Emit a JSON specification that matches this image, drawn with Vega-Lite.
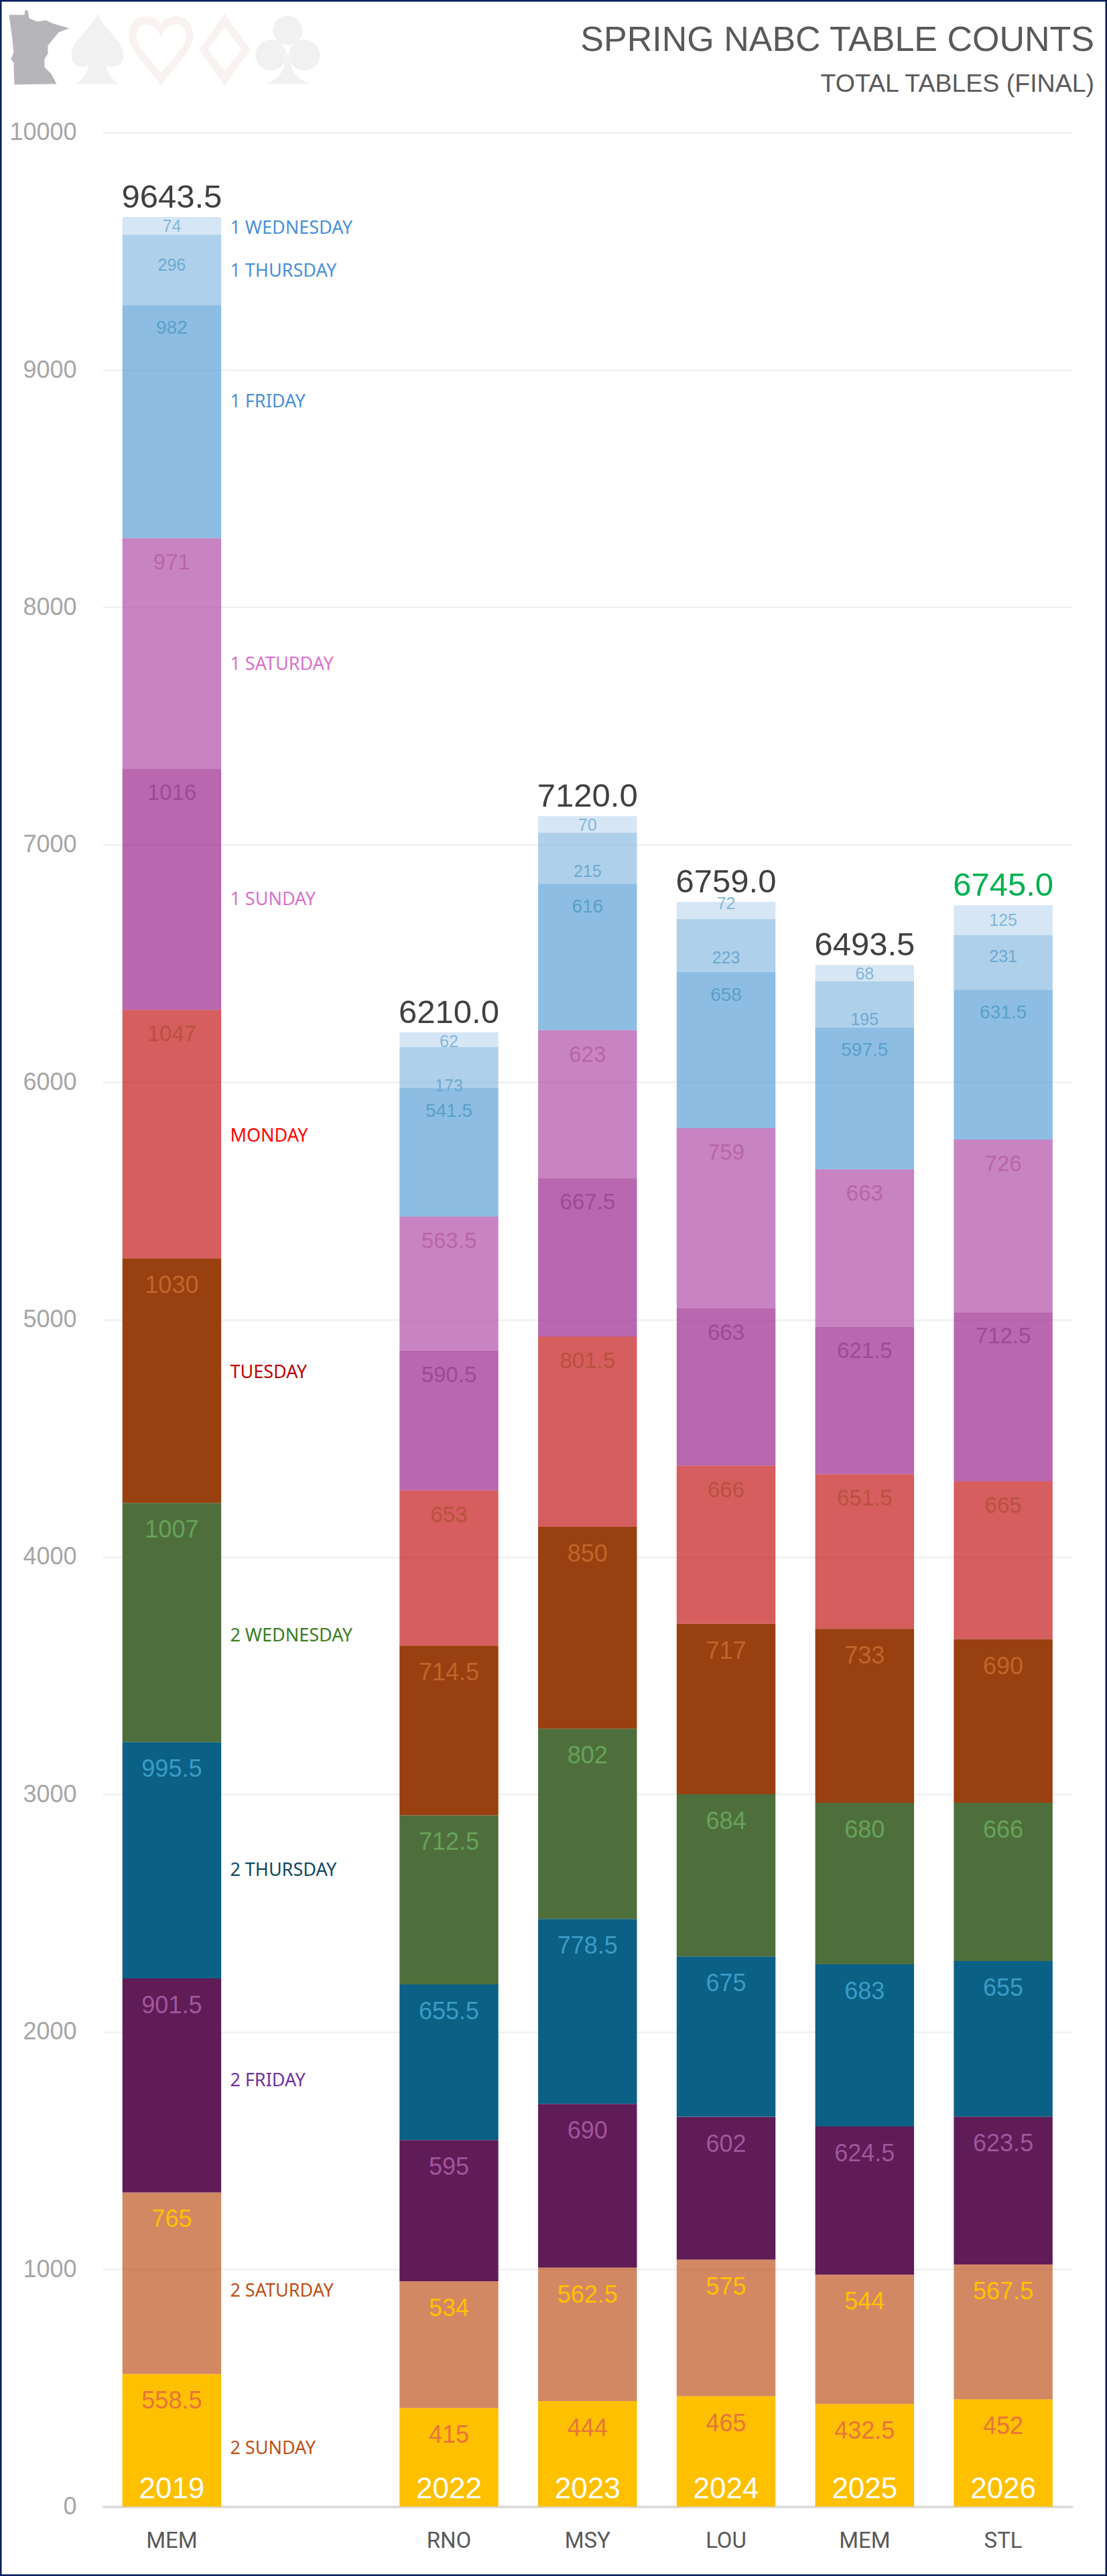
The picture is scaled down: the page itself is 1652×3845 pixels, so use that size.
{"$schema":"https://vega.github.io/schema/vega-lite/v6.json","autosize":"none","padding":0,"width":1652,"height":3845,"background":"white",
"title":{"text":"SPRING NABC TABLE COUNTS","subtitle":"TOTAL TABLES (FINAL)","anchor":"end","frame":"group","orient":"top","offset":-145,"dx":-19,"font":"Liberation Sans","fontSize":52,"fontWeight":"normal","color":"#595959","subtitleFont":"Liberation Sans","subtitleFontSize":37.5,"subtitleColor":"#595959","subtitlePadding":20},
"config":{"view":{"stroke":"#002060","strokeWidth":5,"fill":"white"},"text":{"font":"Liberation Sans"}},
"data":{"values":[
{"year":"2019","city":"MEM","day":"2 SUNDAY","order":1,"tables":558.5},{"year":"2019","city":"MEM","day":"2 SATURDAY","order":2,"tables":765},{"year":"2019","city":"MEM","day":"2 FRIDAY","order":3,"tables":901.5},{"year":"2019","city":"MEM","day":"2 THURSDAY","order":4,"tables":995.5},{"year":"2019","city":"MEM","day":"2 WEDNESDAY","order":5,"tables":1007},{"year":"2019","city":"MEM","day":"TUESDAY","order":6,"tables":1030},{"year":"2019","city":"MEM","day":"MONDAY","order":7,"tables":1047},{"year":"2019","city":"MEM","day":"1 SUNDAY","order":8,"tables":1016},{"year":"2019","city":"MEM","day":"1 SATURDAY","order":9,"tables":971},{"year":"2019","city":"MEM","day":"1 FRIDAY","order":10,"tables":982},{"year":"2019","city":"MEM","day":"1 THURSDAY","order":11,"tables":296},{"year":"2019","city":"MEM","day":"1 WEDNESDAY","order":12,"tables":74},
{"year":"2022","city":"RNO","day":"2 SUNDAY","order":1,"tables":415},{"year":"2022","city":"RNO","day":"2 SATURDAY","order":2,"tables":534},{"year":"2022","city":"RNO","day":"2 FRIDAY","order":3,"tables":595},{"year":"2022","city":"RNO","day":"2 THURSDAY","order":4,"tables":655.5},{"year":"2022","city":"RNO","day":"2 WEDNESDAY","order":5,"tables":712.5},{"year":"2022","city":"RNO","day":"TUESDAY","order":6,"tables":714.5},{"year":"2022","city":"RNO","day":"MONDAY","order":7,"tables":653},{"year":"2022","city":"RNO","day":"1 SUNDAY","order":8,"tables":590.5},{"year":"2022","city":"RNO","day":"1 SATURDAY","order":9,"tables":563.5},{"year":"2022","city":"RNO","day":"1 FRIDAY","order":10,"tables":541.5},{"year":"2022","city":"RNO","day":"1 THURSDAY","order":11,"tables":173},{"year":"2022","city":"RNO","day":"1 WEDNESDAY","order":12,"tables":62},
{"year":"2023","city":"MSY","day":"2 SUNDAY","order":1,"tables":444},{"year":"2023","city":"MSY","day":"2 SATURDAY","order":2,"tables":562.5},{"year":"2023","city":"MSY","day":"2 FRIDAY","order":3,"tables":690},{"year":"2023","city":"MSY","day":"2 THURSDAY","order":4,"tables":778.5},{"year":"2023","city":"MSY","day":"2 WEDNESDAY","order":5,"tables":802},{"year":"2023","city":"MSY","day":"TUESDAY","order":6,"tables":850},{"year":"2023","city":"MSY","day":"MONDAY","order":7,"tables":801.5},{"year":"2023","city":"MSY","day":"1 SUNDAY","order":8,"tables":667.5},{"year":"2023","city":"MSY","day":"1 SATURDAY","order":9,"tables":623},{"year":"2023","city":"MSY","day":"1 FRIDAY","order":10,"tables":616},{"year":"2023","city":"MSY","day":"1 THURSDAY","order":11,"tables":215},{"year":"2023","city":"MSY","day":"1 WEDNESDAY","order":12,"tables":70},
{"year":"2024","city":"LOU","day":"2 SUNDAY","order":1,"tables":465},{"year":"2024","city":"LOU","day":"2 SATURDAY","order":2,"tables":575},{"year":"2024","city":"LOU","day":"2 FRIDAY","order":3,"tables":602},{"year":"2024","city":"LOU","day":"2 THURSDAY","order":4,"tables":675},{"year":"2024","city":"LOU","day":"2 WEDNESDAY","order":5,"tables":684},{"year":"2024","city":"LOU","day":"TUESDAY","order":6,"tables":717},{"year":"2024","city":"LOU","day":"MONDAY","order":7,"tables":666},{"year":"2024","city":"LOU","day":"1 SUNDAY","order":8,"tables":663},{"year":"2024","city":"LOU","day":"1 SATURDAY","order":9,"tables":759},{"year":"2024","city":"LOU","day":"1 FRIDAY","order":10,"tables":658},{"year":"2024","city":"LOU","day":"1 THURSDAY","order":11,"tables":223},{"year":"2024","city":"LOU","day":"1 WEDNESDAY","order":12,"tables":72},
{"year":"2025","city":"MEM","day":"2 SUNDAY","order":1,"tables":432.5},{"year":"2025","city":"MEM","day":"2 SATURDAY","order":2,"tables":544},{"year":"2025","city":"MEM","day":"2 FRIDAY","order":3,"tables":624.5},{"year":"2025","city":"MEM","day":"2 THURSDAY","order":4,"tables":683},{"year":"2025","city":"MEM","day":"2 WEDNESDAY","order":5,"tables":680},{"year":"2025","city":"MEM","day":"TUESDAY","order":6,"tables":733},{"year":"2025","city":"MEM","day":"MONDAY","order":7,"tables":651.5},{"year":"2025","city":"MEM","day":"1 SUNDAY","order":8,"tables":621.5},{"year":"2025","city":"MEM","day":"1 SATURDAY","order":9,"tables":663},{"year":"2025","city":"MEM","day":"1 FRIDAY","order":10,"tables":597.5},{"year":"2025","city":"MEM","day":"1 THURSDAY","order":11,"tables":195},{"year":"2025","city":"MEM","day":"1 WEDNESDAY","order":12,"tables":68},
{"year":"2026","city":"STL","day":"2 SUNDAY","order":1,"tables":452},{"year":"2026","city":"STL","day":"2 SATURDAY","order":2,"tables":567.5},{"year":"2026","city":"STL","day":"2 FRIDAY","order":3,"tables":623.5},{"year":"2026","city":"STL","day":"2 THURSDAY","order":4,"tables":655},{"year":"2026","city":"STL","day":"2 WEDNESDAY","order":5,"tables":666},{"year":"2026","city":"STL","day":"TUESDAY","order":6,"tables":690},{"year":"2026","city":"STL","day":"MONDAY","order":7,"tables":665},{"year":"2026","city":"STL","day":"1 SUNDAY","order":8,"tables":712.5},{"year":"2026","city":"STL","day":"1 SATURDAY","order":9,"tables":726},{"year":"2026","city":"STL","day":"1 FRIDAY","order":10,"tables":631.5},{"year":"2026","city":"STL","day":"1 THURSDAY","order":11,"tables":231},{"year":"2026","city":"STL","day":"1 WEDNESDAY","order":12,"tables":125}
]},
"transform":[{"stack":"tables","groupby":["year"],"sort":[{"field":"order","order":"ascending"}],"as":["y0","y1"]},{"joinaggregate":[{"op":"sum","field":"tables","as":"total"}],"groupby":["year"]}],
"encoding":{
"x":{"field":"year","type":"nominal","title":null,"sort":null,"scale":{"domain":["2019"," ","2022","2023","2024","2025","2026"],"range":[153,1600.5],"paddingInner":0.287,"paddingOuter":0.1435},"axis":{"orient":"bottom","offset":-103.6,"labelExpr":"{'2019':'MEM',' ':'','2022':'RNO','2023':'MSY','2024':'LOU','2025':'MEM','2026':'STL'}[datum.value]","labelAngle":0,"labelFont":"Roboto","labelFontSize":33,"labelColor":"#595959","labelPadding":35,"ticks":false,"grid":false,"domain":true,"domainColor":"#D9D9D9","domainWidth":3.5,"labelOverlap":false}},
"y":{"field":"y1","type":"quantitative","title":null,"stack":null,"scale":{"domain":[0,10000],"range":[3741.4,197.7],"nice":false,"zero":false},"axis":{"orient":"left","offset":-153,"values":[0,1000,2000,3000,4000,5000,6000,7000,8000,9000,10000],"format":"d","labelFont":"Liberation Sans","labelFontSize":36,"labelColor":"#A6A6A6","labelPadding":39,"ticks":false,"domain":false,"grid":true,"gridColor":"#EEEEEE","gridWidth":2}}
},
"resolve":{"scale":{"color":"independent"}},
"layer":[
{"mark":{"type":"bar"},"encoding":{"y2":{"field":"y0"},"color":{"field":"day","type":"nominal","legend":null,"scale":{"domain":["2 SUNDAY","2 SATURDAY","2 FRIDAY","2 THURSDAY","2 WEDNESDAY","TUESDAY","MONDAY","1 SUNDAY","1 SATURDAY","1 FRIDAY","1 THURSDAY","1 WEDNESDAY"],"range":["#FFC000","rgba(192,86,34,0.7)","#5F1C56","#0A6085","rgba(69,103,50,0.95)","rgba(147,54,3,0.95)","rgba(196,26,26,0.7)","rgba(155,39,139,0.7)","rgba(176,78,168,0.7)","rgba(92,161,215,0.7)","rgba(141,188,225,0.7)","rgba(196,219,241,0.7)"]}}}},
{"transform":[{"filter":{"field":"day","oneOf":["2 SUNDAY","2 SATURDAY","2 FRIDAY","2 THURSDAY","2 WEDNESDAY","TUESDAY"]}}],"mark":{"type":"text","dy":41,"fontSize":36},"encoding":{"text":{"field":"tables","type":"quantitative"},"color":{"field":"day","type":"nominal","legend":null,"scale":{"domain":["2 SUNDAY","2 SATURDAY","2 FRIDAY","2 THURSDAY","2 WEDNESDAY","TUESDAY"],"range":["#E8743B","#FFC000","#A1559D","#3A9CC5","#66A35A","#C0652A"]}}}},
{"transform":[{"filter":{"field":"day","oneOf":["MONDAY","1 SUNDAY","1 SATURDAY"]}}],"mark":{"type":"text","dy":37,"fontSize":33},"encoding":{"text":{"field":"tables","type":"quantitative"},"color":{"field":"day","type":"nominal","legend":null,"scale":{"domain":["MONDAY","1 SUNDAY","1 SATURDAY"],"range":["#B8523F","#9A4C96","#B866A6"]}}}},
{"transform":[{"filter":"datum.day==='1 FRIDAY'"}],"mark":{"type":"text","dy":35,"fontSize":28,"color":"#5AA0C8"},"encoding":{"text":{"field":"tables","type":"quantitative"}}},
{"transform":[{"filter":"datum.day==='1 THURSDAY'&&(datum.tables===173||datum.tables===215||datum.tables===223||datum.tables===195)"}],"mark":{"type":"text","dy":58,"fontSize":25,"color":"#6CAAD0"},"encoding":{"text":{"field":"tables","type":"quantitative"}}},
{"transform":[{"filter":"datum.day==='1 THURSDAY'&&datum.tables===296"}],"mark":{"type":"text","dy":46,"fontSize":25,"color":"#6CAAD0"},"encoding":{"text":{"field":"tables","type":"quantitative"}}},
{"transform":[{"filter":"datum.day==='1 THURSDAY'&&datum.tables===231"}],"mark":{"type":"text","dy":33,"fontSize":25,"color":"#6CAAD0"},"encoding":{"text":{"field":"tables","type":"quantitative"}}},
{"transform":[{"filter":"datum.day==='1 WEDNESDAY'&&datum.tables<=74&&datum.tables!==72"}],"mark":{"type":"text","dy":14,"fontSize":25,"color":"#82B8D8"},"encoding":{"text":{"field":"tables","type":"quantitative"}}},
{"transform":[{"filter":"datum.day==='1 WEDNESDAY'&&datum.tables===72"}],"mark":{"type":"text","dy":3,"fontSize":25,"color":"#82B8D8"},"encoding":{"text":{"field":"tables","type":"quantitative"}}},
{"transform":[{"filter":"datum.day==='1 WEDNESDAY'&&datum.tables===125"}],"mark":{"type":"text","dy":23,"fontSize":25,"color":"#82B8D8"},"encoding":{"text":{"field":"tables","type":"quantitative"}}},
{"transform":[{"filter":"datum.day==='1 WEDNESDAY'"}],"mark":{"type":"text","dy":-29,"fontSize":49},"encoding":{"text":{"field":"total","type":"quantitative","format":".1f"},"color":{"condition":{"test":"datum.year==='2026'","value":"#00B050"},"value":"#404040"}}},
{"transform":[{"filter":"datum.day==='2 SUNDAY'"}],"mark":{"type":"text","dy":-25,"fontSize":44,"color":"white"},"encoding":{"y":{"datum":0},"text":{"field":"year","type":"nominal"}}},
{"transform":[{"filter":"datum.year==='2019'&&datum.day==='1 WEDNESDAY'"}],"mark":{"type":"text","align":"left","dx":87,"dy":17,"fontSize":27,"font":"Noto Sans","color":"#4A90D9"},"encoding":{"text":{"field":"day","type":"nominal"}}},
{"transform":[{"filter":"datum.year==='2019'&&datum.day==='1 THURSDAY'"}],"mark":{"type":"text","align":"left","dx":87,"dy":55,"fontSize":27,"font":"Noto Sans","color":"#4A90D9"},"encoding":{"text":{"field":"day","type":"nominal"}}},
{"transform":[{"filter":"datum.year==='2019'&&datum.day==='1 FRIDAY'"}],"mark":{"type":"text","align":"left","dx":87,"dy":145,"fontSize":27,"font":"Noto Sans","color":"#4A90D9"},"encoding":{"text":{"field":"day","type":"nominal"}}},
{"transform":[{"filter":"datum.year==='2019'&&datum.day==='1 SATURDAY'"}],"mark":{"type":"text","align":"left","dx":87,"dy":189,"fontSize":27,"font":"Noto Sans","color":"#D971CB"},"encoding":{"text":{"field":"day","type":"nominal"}}},
{"transform":[{"filter":"datum.year==='2019'&&datum.day==='1 SUNDAY'"}],"mark":{"type":"text","align":"left","dx":87,"dy":196,"fontSize":27,"font":"Noto Sans","color":"#D971CB"},"encoding":{"text":{"field":"day","type":"nominal"}}},
{"transform":[{"filter":"datum.year==='2019'&&datum.day==='MONDAY'"}],"mark":{"type":"text","align":"left","dx":87,"dy":189,"fontSize":27,"font":"Noto Sans","color":"#FF0000"},"encoding":{"text":{"field":"day","type":"nominal"}}},
{"transform":[{"filter":"datum.year==='2019'&&datum.day==='TUESDAY'"}],"mark":{"type":"text","align":"left","dx":87,"dy":171,"fontSize":27,"font":"Noto Sans","color":"#C00000"},"encoding":{"text":{"field":"day","type":"nominal"}}},
{"transform":[{"filter":"datum.year==='2019'&&datum.day==='2 WEDNESDAY'"}],"mark":{"type":"text","align":"left","dx":87,"dy":199,"fontSize":27,"font":"Noto Sans","color":"#3A7D22"},"encoding":{"text":{"field":"day","type":"nominal"}}},
{"transform":[{"filter":"datum.year==='2019'&&datum.day==='2 THURSDAY'"}],"mark":{"type":"text","align":"left","dx":87,"dy":192,"fontSize":27,"font":"Noto Sans","color":"#0F4761"},"encoding":{"text":{"field":"day","type":"nominal"}}},
{"transform":[{"filter":"datum.year==='2019'&&datum.day==='2 FRIDAY'"}],"mark":{"type":"text","align":"left","dx":87,"dy":153,"fontSize":27,"font":"Noto Sans","color":"#7030A0"},"encoding":{"text":{"field":"day","type":"nominal"}}},
{"transform":[{"filter":"datum.year==='2019'&&datum.day==='2 SATURDAY'"}],"mark":{"type":"text","align":"left","dx":87,"dy":148,"fontSize":27,"font":"Noto Sans","color":"#C04F15"},"encoding":{"text":{"field":"day","type":"nominal"}}},
{"transform":[{"filter":"datum.year==='2019'&&datum.day==='2 SUNDAY'"}],"mark":{"type":"text","align":"left","dx":87,"dy":112,"fontSize":27,"font":"Noto Sans","color":"#C04F15"},"encoding":{"text":{"field":"day","type":"nominal"}}},
{"transform":[{"filter":"datum.year==='2019'&&datum.day==='1 WEDNESDAY'"}],"mark":{"type":"point","filled":true,"opacity":1,"size":40000,"color":"#B6B5BA","shape":"M-2.43 -0.48 L-2.2 -0.48 L-2.19 -0.55 L-2.15 -0.55 L-2.13 -0.43 L-2.01 -0.38 L-1.88 -0.4 L-1.77 -0.35 L-1.53 -0.28 L-1.69 -0.22 L-1.85 -0.02 L-1.85 0.1 L-1.9 0.18 L-1.9 0.3 L-1.8 0.4 L-1.72 0.55 L-2.35 0.56 L-2.36 0.23 L-2.4 0.18 L-2.36 0.08 L-2.38 -0.12 Z"},"encoding":{"y":{"datum":10360,"type":"quantitative"}}},
{"transform":[{"filter":"datum.year==='2019'&&datum.day==='1 WEDNESDAY'"}],"mark":{"type":"point","filled":true,"opacity":1,"size":40000,"color":"#F1F1F1","shape":"M-1.11 -0.5 C-1.01 -0.25 -0.72 -0.1 -0.72 0.12 C-0.72 0.27 -0.84 0.33 -0.98 0.27 C-0.96 0.4 -0.88 0.5 -0.78 0.55 L-1.44 0.55 C-1.34 0.5 -1.26 0.4 -1.24 0.27 C-1.38 0.33 -1.5 0.27 -1.5 0.12 C-1.5 -0.1 -1.21 -0.25 -1.11 -0.5 Z"},"encoding":{"y":{"datum":10360,"type":"quantitative"}}},
{"transform":[{"filter":"datum.year==='2019'&&datum.day==='1 WEDNESDAY'"}],"mark":{"type":"point","filled":true,"opacity":1,"size":40000,"color":"#FAF1F1","shape":"M-0.16 -0.34 C-0.24 -0.5 -0.64 -0.55 -0.64 -0.15 C-0.64 0.05 -0.31 0.35 -0.16 0.58 C-0.01 0.35 0.32 0.05 0.32 -0.15 C0.32 -0.55 -0.08 -0.5 -0.16 -0.34 Z M-0.16 -0.15 C-0.06 -0.4 0.21 -0.4 0.21 -0.15 C0.21 0 -0.06 0.25 -0.16 0.38 C-0.26 0.25 -0.53 0 -0.53 -0.15 C-0.53 -0.4 -0.26 -0.4 -0.16 -0.15 Z"},"encoding":{"y":{"datum":10360,"type":"quantitative"}}},
{"transform":[{"filter":"datum.year==='2019'&&datum.day==='1 WEDNESDAY'"}],"mark":{"type":"point","filled":true,"opacity":1,"size":40000,"color":"#FAF1F1","shape":"M0.79 -0.5 L1.17 0.04 L0.79 0.58 L0.41 0.04 Z M0.79 -0.3 L0.54 0.04 L0.79 0.35 L1.04 0.04 Z"},"encoding":{"y":{"datum":10360,"type":"quantitative"}}},
{"transform":[{"filter":"datum.year==='2019'&&datum.day==='1 WEDNESDAY'"}],"mark":{"type":"point","filled":true,"opacity":1,"size":40000,"color":"#F1F1F1","shape":"M1.51 -0.25 A0.22 0.22 0 1 1 1.95 -0.25 A0.22 0.22 0 1 1 1.51 -0.25 Z M1.25 0.12 A0.23 0.23 0 1 1 1.71 0.12 A0.23 0.23 0 1 1 1.25 0.12 Z M1.75 0.12 A0.23 0.23 0 1 1 2.21 0.12 A0.23 0.23 0 1 1 1.75 0.12 Z M1.7 0.1 C1.7 0.35 1.6 0.48 1.41 0.55 L2.06 0.55 C1.87 0.48 1.76 0.35 1.76 0.1 Z"},"encoding":{"y":{"datum":10360,"type":"quantitative"}}}
]}
